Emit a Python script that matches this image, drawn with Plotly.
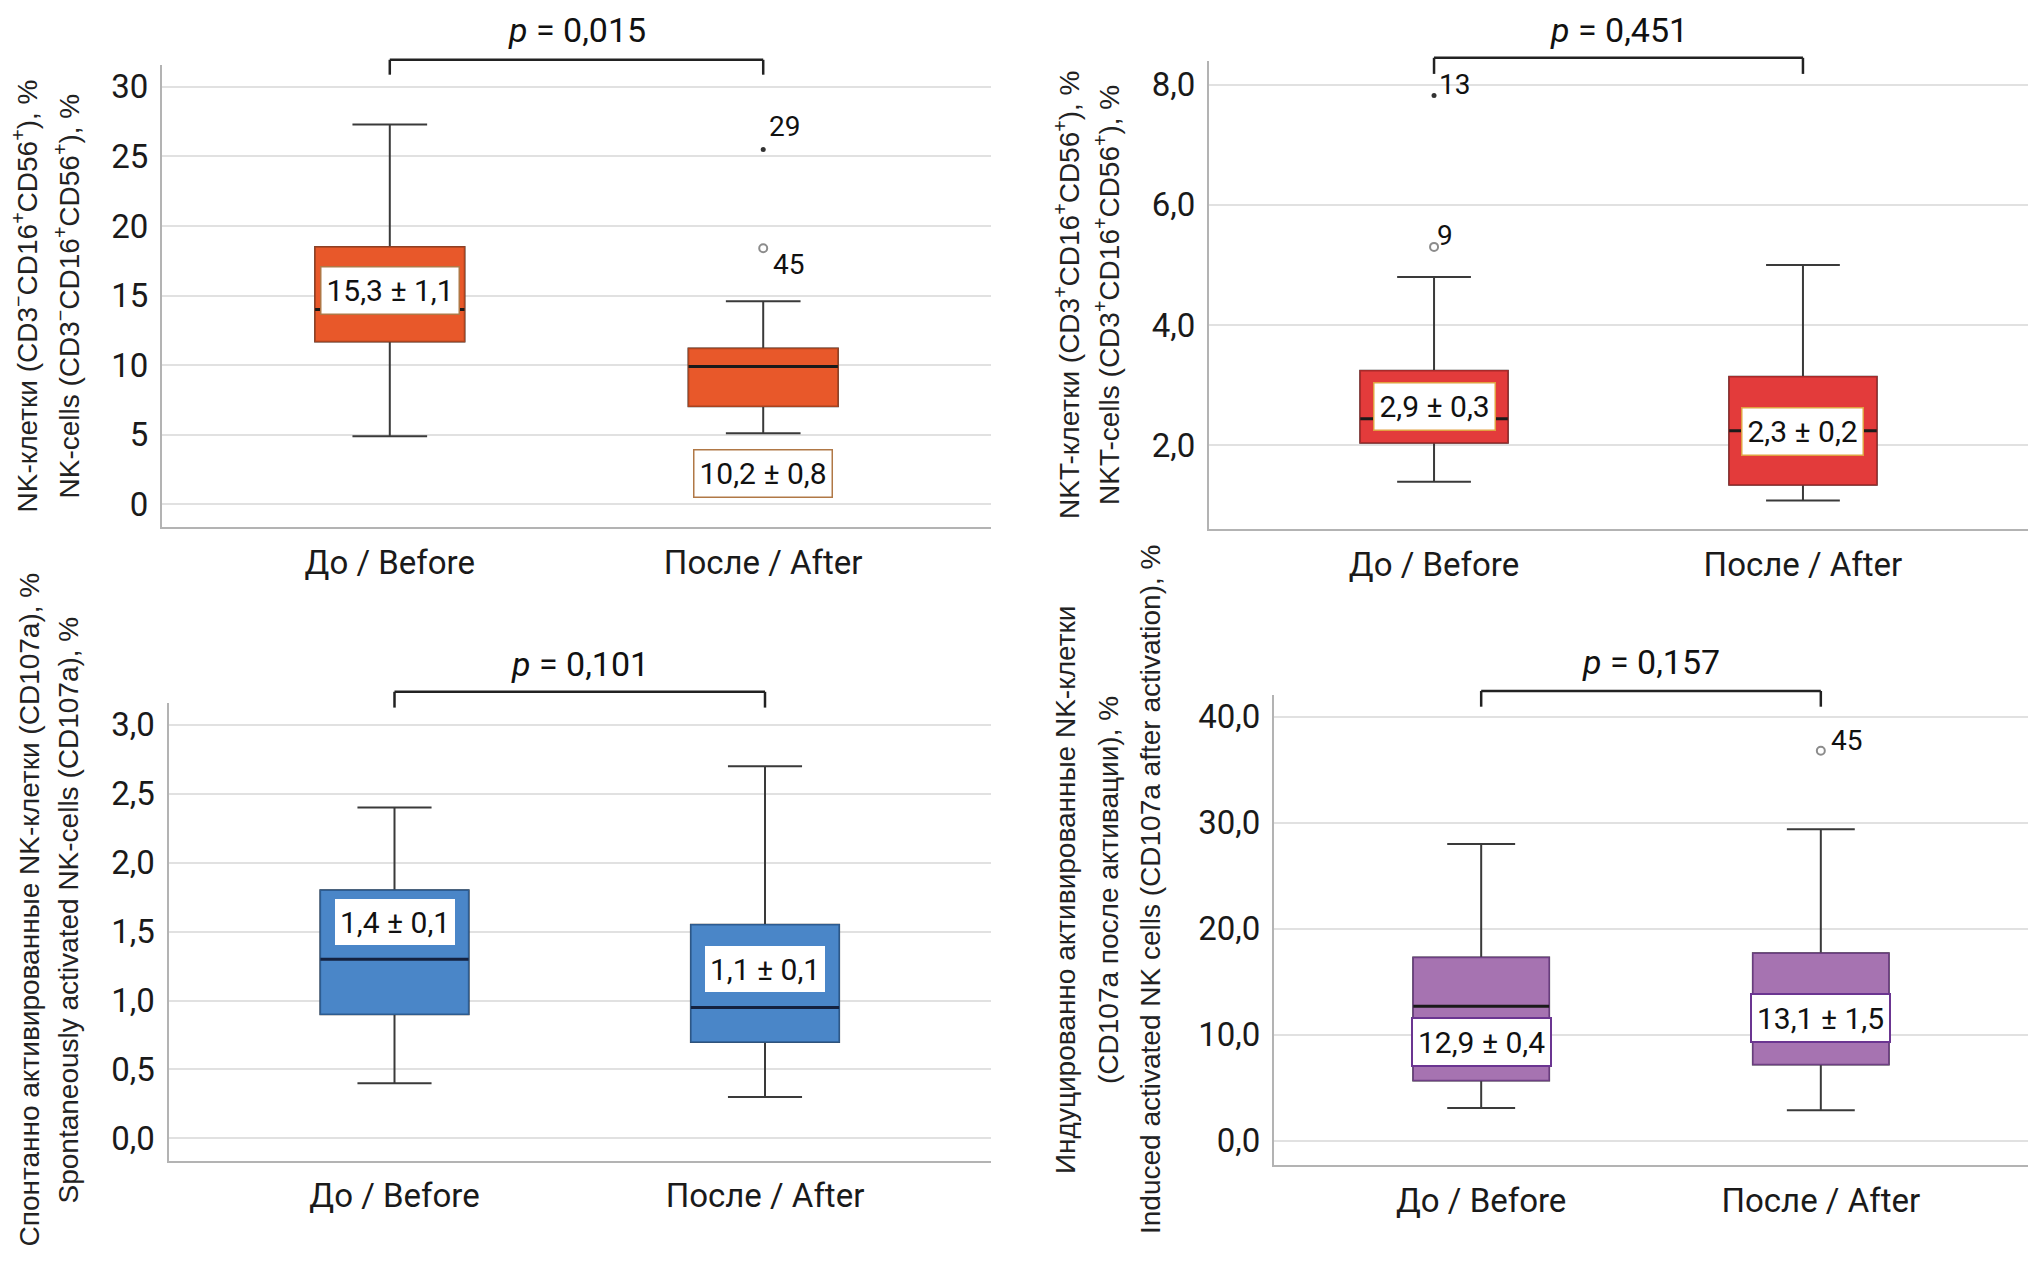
import plotly.graph_objects as go

# ---------------- DATA ----------------
categories = ["До / Before", "После / After"]

# Panel A: NK cells (CD3-CD16+CD56+), %
nk_low = [4.9, 5.1]
nk_q1 = [11.7, 7.05]
nk_median = [14.0, 9.9]
nk_q3 = [18.5, 11.2]
nk_high = [27.3, 14.6]
nk_mean = [15.3, 10.2]
nk_sem = [1.1, 0.8]
nk_out_cat = [1, 1]
nk_out_val = [25.5, 18.4]
nk_out_id = ["29", "45"]
nk_out_kind = ["extreme", "mild"]
nk_p = "0,015"

# Panel B: NKT cells (CD3+CD16+CD56+), %
nkt_low = [1.39, 1.08]
nkt_q1 = [2.04, 1.34]
nkt_median = [2.44, 2.24]
nkt_q3 = [3.24, 3.14]
nkt_high = [4.80, 5.00]
nkt_mean = [2.9, 2.3]
nkt_sem = [0.3, 0.2]
nkt_out_cat = [0, 0]
nkt_out_val = [7.82, 5.30]
nkt_out_id = ["13", "9"]
nkt_out_kind = ["extreme", "mild"]
nkt_p = "0,451"

# Panel C: spontaneously activated NK cells (CD107a), %
sp_low = [0.40, 0.30]
sp_q1 = [0.90, 0.70]
sp_median = [1.30, 0.95]
sp_q3 = [1.80, 1.55]
sp_high = [2.40, 2.70]
sp_mean = [1.4, 1.1]
sp_sem = [0.1, 0.1]
sp_out_cat = []
sp_out_val = []
sp_out_id = []
sp_out_kind = []
sp_p = "0,101"

# Panel D: induced activated NK cells (CD107a after activation), %
ind_low = [3.1, 2.9]
ind_q1 = [5.7, 7.2]
ind_median = [12.7, 11.6]
ind_q3 = [17.3, 17.7]
ind_high = [28.0, 29.4]
ind_mean = [12.9, 13.1]
ind_sem = [0.4, 1.5]
ind_out_cat = [1]
ind_out_val = [36.8]
ind_out_id = ["45"]
ind_out_kind = ["mild"]
ind_p = "0,157"

y_titles_A = ["NK-клетки (CD3<sup>−</sup>CD16<sup>+</sup>CD56<sup>+</sup>), %",
              "NK-cells (CD3<sup>−</sup>CD16<sup>+</sup>CD56<sup>+</sup>), %"]
y_titles_B = ["NKT-клетки (CD3<sup>+</sup>CD16<sup>+</sup>CD56<sup>+</sup>), %",
              "NKT-cells (CD3<sup>+</sup>CD16<sup>+</sup>CD56<sup>+</sup>), %"]
y_titles_C = ["Спонтанно активированные NK-клетки (CD107a), %",
              "Spontaneously activated NK-cells (CD107a), %"]
y_titles_D = ["Индуцированно активированные NK-клетки",
              "(CD107a после активации), %",
              "Induced activated NK cells (CD107a after activation), %"]

# ---------------- STYLE / LAYOUT ----------------
W, H = 2032, 1263
NARROW = "Roboto, Liberation Sans, sans-serif"
REG = "Liberation Sans, Arial, Helvetica, sans-serif"
BOXW = 0.4
WHISK = "#3a3a3a"

def px(x):
    return x / W

def py(y):
    return 1 - y / H

panels = [
    dict(low=nk_low, q1=nk_q1, med=nk_median, q3=nk_q3, high=nk_high, mean=nk_mean, sem=nk_sem,
         oc=nk_out_cat, ov=nk_out_val, oid=nk_out_id, ok=nk_out_kind, p=nk_p,
         fill="#E8582A", border="#A9431F", medc="#1a1a1a", lblborder="#B07846", lblbw=1.5,
         xdom=[px(162), px(991)], ydom=[py(527), py(64.6)], yrange=[-1.63, 31.6],
         tickvals=[0, 5, 10, 15, 20, 25, 30], tickformat="d",
         label_y=[15.35, 2.2],
         oshift=[(21, 23), (25, -16)],
         brk=(py(59.8), py(74.7)), ptxt=py(30.3),
         titles=y_titles_A, tx=[25.5, 67.5], ty=296, tfs=28),
    dict(low=nkt_low, q1=nkt_q1, med=nkt_median, q3=nkt_q3, high=nkt_high, mean=nkt_mean, sem=nkt_sem,
         oc=nkt_out_cat, ov=nkt_out_val, oid=nkt_out_id, ok=nkt_out_kind, p=nkt_p,
         fill="#E33B3B", border="#A82A2A", medc="#1a1a1a", lblborder="#E0A040", lblbw=1.5,
         xdom=[px(1209), px(2028)], ydom=[py(529.3), py(60.6)], yrange=[0.60, 8.40],
         tickvals=[2, 4, 6, 8], tickformat=".1f",
         label_y=[2.64, 2.23],
         oshift=[(20, 11), (11, 11)],
         brk=(py(57.8), py(73.9)), ptxt=py(30.3),
         titles=y_titles_B, tx=[1067, 1107], ty=295, tfs=28),
    dict(low=sp_low, q1=sp_q1, med=sp_median, q3=sp_q3, high=sp_high, mean=sp_mean, sem=sp_sem,
         oc=sp_out_cat, ov=sp_out_val, oid=sp_out_id, ok=sp_out_kind, p=sp_p,
         fill="#4A86C8", border="#2D5C91", medc="#14213f", lblborder="#4A86C8", lblbw=0,
         xdom=[px(168.5), px(991)], ydom=[py(1160.5), py(702.7)], yrange=[-0.16, 3.16],
         tickvals=[0, 0.5, 1, 1.5, 2, 2.5, 3], tickformat=".1f",
         label_y=[1.57, 1.23],
         oshift=[],
         brk=(py(691.8), py(707.6)), ptxt=py(664),
         titles=y_titles_C, tx=[28.5, 67.5], ty=910, tfs=28),
    dict(low=ind_low, q1=ind_q1, med=ind_median, q3=ind_q3, high=ind_high, mean=ind_mean, sem=ind_sem,
         oc=ind_out_cat, ov=ind_out_val, oid=ind_out_id, ok=ind_out_kind, p=ind_p,
         fill="#A673B1", border="#6E3F84", medc="#1a1a1a", lblborder="#6B3591", lblbw=2,
         xdom=[px(1274), px(2028)], ydom=[py(1165.3), py(694.6)], yrange=[-2.3, 42.1],
         tickvals=[0, 10, 20, 30, 40], tickformat=".1f",
         label_y=[9.3, 11.6],
         oshift=[(26, 10)],
         brk=(py(691), py(706.7)), ptxt=py(662),
         titles=y_titles_D, tx=[1065, 1108, 1150], ty=890, tfs=28),
]

fig = go.Figure()
shapes = []
annotations = []
layout_axes = {}

for i, P in enumerate(panels):
    n = "" if i == 0 else str(i + 1)
    xa, ya = "x" + n, "y" + n
    # box with whiskers
    fig.add_trace(go.Box(
        x=categories, q1=P["q1"], median=P["med"], q3=P["q3"],
        lowerfence=P["low"], upperfence=P["high"],
        fillcolor=P["fill"], line=dict(color=WHISK, width=2),
        width=BOXW, whiskerwidth=0.5, boxpoints=False,
        xaxis=xa, yaxis=ya, showlegend=False, hoverinfo="skip"))
    # box body with coloured border (no whiskers)
    fig.add_trace(go.Box(
        x=categories, q1=P["q1"], median=P["med"], q3=P["q3"],
        lowerfence=P["q1"], upperfence=P["q3"],
        fillcolor=P["fill"], line=dict(color=P["border"], width=1.5),
        width=BOXW, whiskerwidth=0, boxpoints=False,
        xaxis=xa, yaxis=ya, showlegend=False, hoverinfo="skip"))
    # median lines
    for k, m in enumerate(P["med"]):
        shapes.append(dict(type="line", xref=xa, yref=ya,
                           x0=k - BOXW / 2, x1=k + BOXW / 2, y0=m, y1=m,
                           line=dict(color=P["medc"], width=3), layer="above"))
    # outliers
    for j, (c, v, oid, kind) in enumerate(zip(P["oc"], P["ov"], P["oid"], P["ok"])):
        if kind == "mild":
            mk = dict(symbol="circle-open", size=8, color="#8c8c8c", line=dict(width=2, color="#8c8c8c"))
        else:
            mk = dict(symbol="circle", size=5, color="#333333")
        fig.add_trace(go.Scatter(x=[categories[c]], y=[v], mode="markers", marker=mk,
                                 xaxis=xa, yaxis=ya, showlegend=False, hoverinfo="skip"))
        dx, dy = P["oshift"][j]
        annotations.append(dict(x=c, y=v, xref=xa, yref=ya, text=oid, showarrow=False,
                                xshift=dx, yshift=dy, font=dict(family=NARROW, size=28, color="#111")))
    # value labels
    for k in range(2):
        txt = f"{P['mean'][k]:.1f} ± {P['sem'][k]:.1f}".replace(".", ",")
        annotations.append(dict(x=k, y=P["label_y"][k], xref=xa, yref=ya, text=txt,
                                showarrow=False, bgcolor="white", bordercolor=P["lblborder"],
                                borderwidth=P["lblbw"], borderpad=5, height=36,
                                font=dict(family=NARROW, size=30, color="#111")))
    # significance bracket
    ytop, ybot = P["brk"]
    shapes.append(dict(type="line", xref=xa, yref="paper", x0=0, x1=1, y0=ytop, y1=ytop,
                       line=dict(color="#222", width=2.5)))
    for xx in (0, 1):
        shapes.append(dict(type="line", xref=xa, yref="paper", x0=xx, x1=xx, y0=ytop, y1=ybot,
                           line=dict(color="#222", width=2.5)))
    annotations.append(dict(x=0.5, y=P["ptxt"], xref=xa, yref="paper", showarrow=False,
                            text="<i>p</i> = " + P["p"], yanchor="middle",
                            font=dict(family=NARROW, size=34, color="#111")))
    # y-axis titles (one annotation per line)
    for tline, tx in zip(P["titles"], P["tx"]):
        annotations.append(dict(x=px(tx), y=py(P["ty"]), xref="paper", yref="paper",
                                text=tline, textangle=-90, showarrow=False,
                                xanchor="center", yanchor="middle",
                                font=dict(family=REG, size=P["tfs"], color="#222")))
    layout_axes["xaxis" + n] = dict(
        domain=P["xdom"], anchor=ya, type="category", categoryorder="array",
        categoryarray=categories, range=[-0.61, 1.61], showgrid=False, zeroline=False,
        showline=True, linecolor="#b3b3b3", linewidth=2, ticks="",
        tickfont=dict(family=NARROW, size=33, color="#1a1a1a"), ticklabelstandoff=5)
    layout_axes["yaxis" + n] = dict(
        domain=P["ydom"], anchor=xa, range=P["yrange"], tickvals=P["tickvals"],
        tickformat=P["tickformat"], showgrid=True, gridcolor="#e1e1e1", gridwidth=2,
        zeroline=False, showline=True, linecolor="#b3b3b3", linewidth=2, ticks="",
        tickfont=dict(family=NARROW, size=33, color="#1a1a1a"), ticklabelstandoff=5)

fig.update_layout(width=W, height=H, margin=dict(l=0, r=0, t=0, b=0),
                  paper_bgcolor="white", plot_bgcolor="white", separators=", ",
                  boxmode="overlay", shapes=shapes, annotations=annotations, **layout_axes)

fig.write_html("out.html", config={"displayModeBar": False},
               post_script="document.body.style.margin='0px';document.body.style.overflow='hidden';")
